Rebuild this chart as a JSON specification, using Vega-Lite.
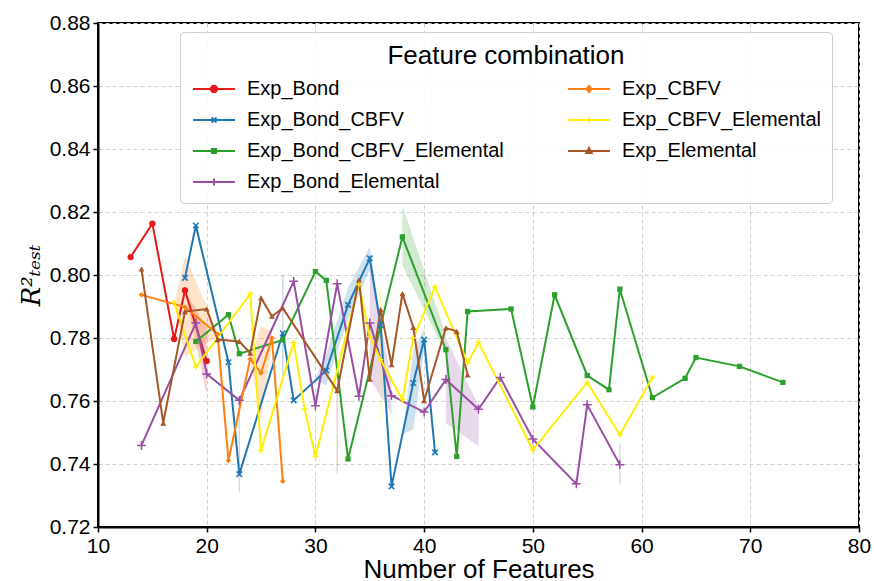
{
  "$schema": "https://vega.github.io/schema/vega-lite/v6.json",
  "width": 761,
  "height": 504,
  "autosize": {"type": "none"},
  "padding": {"left": 98, "top": 23, "right": 15, "bottom": 54},
  "background": "white",
  "config": {
    "font": "Liberation Sans",
    "view": {"stroke": "black", "strokeWidth": 2},
    "axis": {
      "labelFont": "Liberation Sans",
      "labelFontSize": 21,
      "labelColor": "black",
      "labelFlush": false,
      "tickColor": "black",
      "tickSize": 5,
      "tickWidth": 1.5,
      "domainColor": "black",
      "domainWidth": 2,
      "gridColor": "#d0d0d0",
      "gridDash": [4, 3],
      "gridWidth": 1,
      "titleFont": "Liberation Sans",
      "titleFontWeight": "normal",
      "titleColor": "black"
    }
  },
  "datasets": {
    "lines": [
      {"s": "Exp_Bond", "x": 13, "y": 0.8057},
      {"s": "Exp_Bond", "x": 15, "y": 0.8163},
      {"s": "Exp_Bond", "x": 17, "y": 0.7797},
      {"s": "Exp_Bond", "x": 18, "y": 0.7951},
      {"s": "Exp_Bond", "x": 20, "y": 0.7727},

      {"s": "Exp_Bond_CBFV", "x": 18, "y": 0.7991},
      {"s": "Exp_Bond_CBFV", "x": 19, "y": 0.8157},
      {"s": "Exp_Bond_CBFV", "x": 22, "y": 0.7723},
      {"s": "Exp_Bond_CBFV", "x": 23, "y": 0.7368},
      {"s": "Exp_Bond_CBFV", "x": 27, "y": 0.7815},
      {"s": "Exp_Bond_CBFV", "x": 28, "y": 0.7602},
      {"s": "Exp_Bond_CBFV", "x": 31, "y": 0.7697},
      {"s": "Exp_Bond_CBFV", "x": 33, "y": 0.7905},
      {"s": "Exp_Bond_CBFV", "x": 35, "y": 0.8053},
      {"s": "Exp_Bond_CBFV", "x": 36, "y": 0.784},
      {"s": "Exp_Bond_CBFV", "x": 37, "y": 0.7329},
      {"s": "Exp_Bond_CBFV", "x": 39, "y": 0.7657},
      {"s": "Exp_Bond_CBFV", "x": 40, "y": 0.7795},
      {"s": "Exp_Bond_CBFV", "x": 41, "y": 0.7437},

      {"s": "Exp_Bond_CBFV_Elemental", "x": 19, "y": 0.7789},
      {"s": "Exp_Bond_CBFV_Elemental", "x": 22, "y": 0.7874},
      {"s": "Exp_Bond_CBFV_Elemental", "x": 23, "y": 0.775},
      {"s": "Exp_Bond_CBFV_Elemental", "x": 27, "y": 0.7794},
      {"s": "Exp_Bond_CBFV_Elemental", "x": 30, "y": 0.8011},
      {"s": "Exp_Bond_CBFV_Elemental", "x": 31, "y": 0.7983},
      {"s": "Exp_Bond_CBFV_Elemental", "x": 33, "y": 0.7416},
      {"s": "Exp_Bond_CBFV_Elemental", "x": 38, "y": 0.8121},
      {"s": "Exp_Bond_CBFV_Elemental", "x": 42, "y": 0.7763},
      {"s": "Exp_Bond_CBFV_Elemental", "x": 43, "y": 0.7424},
      {"s": "Exp_Bond_CBFV_Elemental", "x": 44, "y": 0.7884},
      {"s": "Exp_Bond_CBFV_Elemental", "x": 48, "y": 0.7892},
      {"s": "Exp_Bond_CBFV_Elemental", "x": 50, "y": 0.7581},
      {"s": "Exp_Bond_CBFV_Elemental", "x": 52, "y": 0.7937},
      {"s": "Exp_Bond_CBFV_Elemental", "x": 55, "y": 0.7681},
      {"s": "Exp_Bond_CBFV_Elemental", "x": 57, "y": 0.7636},
      {"s": "Exp_Bond_CBFV_Elemental", "x": 58, "y": 0.7955},
      {"s": "Exp_Bond_CBFV_Elemental", "x": 61, "y": 0.7611},
      {"s": "Exp_Bond_CBFV_Elemental", "x": 64, "y": 0.7672},
      {"s": "Exp_Bond_CBFV_Elemental", "x": 65, "y": 0.7738},
      {"s": "Exp_Bond_CBFV_Elemental", "x": 69, "y": 0.771},
      {"s": "Exp_Bond_CBFV_Elemental", "x": 73, "y": 0.7659},

      {"s": "Exp_Bond_Elemental", "x": 14, "y": 0.7459},
      {"s": "Exp_Bond_Elemental", "x": 19, "y": 0.7848},
      {"s": "Exp_Bond_Elemental", "x": 20, "y": 0.7686},
      {"s": "Exp_Bond_Elemental", "x": 23, "y": 0.7602},
      {"s": "Exp_Bond_Elemental", "x": 28, "y": 0.798},
      {"s": "Exp_Bond_Elemental", "x": 30, "y": 0.7585},
      {"s": "Exp_Bond_Elemental", "x": 32, "y": 0.7972},
      {"s": "Exp_Bond_Elemental", "x": 34, "y": 0.7615},
      {"s": "Exp_Bond_Elemental", "x": 35, "y": 0.7848},
      {"s": "Exp_Bond_Elemental", "x": 37, "y": 0.7617},
      {"s": "Exp_Bond_Elemental", "x": 40, "y": 0.7565},
      {"s": "Exp_Bond_Elemental", "x": 42, "y": 0.7668},
      {"s": "Exp_Bond_Elemental", "x": 45, "y": 0.7574},
      {"s": "Exp_Bond_Elemental", "x": 47, "y": 0.7675},
      {"s": "Exp_Bond_Elemental", "x": 50, "y": 0.7479},
      {"s": "Exp_Bond_Elemental", "x": 54, "y": 0.7337},
      {"s": "Exp_Bond_Elemental", "x": 55, "y": 0.7588},
      {"s": "Exp_Bond_Elemental", "x": 58, "y": 0.7398},

      {"s": "Exp_CBFV", "x": 14, "y": 0.7937},
      {"s": "Exp_CBFV", "x": 18, "y": 0.7898},
      {"s": "Exp_CBFV", "x": 21, "y": 0.7813},
      {"s": "Exp_CBFV", "x": 22, "y": 0.7411},
      {"s": "Exp_CBFV", "x": 24, "y": 0.7733},
      {"s": "Exp_CBFV", "x": 25, "y": 0.7689},
      {"s": "Exp_CBFV", "x": 26, "y": 0.78},
      {"s": "Exp_CBFV", "x": 27, "y": 0.7345},

      {"s": "Exp_CBFV_Elemental", "x": 17, "y": 0.7913},
      {"s": "Exp_CBFV_Elemental", "x": 19, "y": 0.7708},
      {"s": "Exp_CBFV_Elemental", "x": 24, "y": 0.794},
      {"s": "Exp_CBFV_Elemental", "x": 25, "y": 0.7443},
      {"s": "Exp_CBFV_Elemental", "x": 28, "y": 0.7786},
      {"s": "Exp_CBFV_Elemental", "x": 29, "y": 0.7575},
      {"s": "Exp_CBFV_Elemental", "x": 30, "y": 0.7424},
      {"s": "Exp_CBFV_Elemental", "x": 34, "y": 0.797},
      {"s": "Exp_CBFV_Elemental", "x": 35, "y": 0.7805},
      {"s": "Exp_CBFV_Elemental", "x": 36, "y": 0.7731},
      {"s": "Exp_CBFV_Elemental", "x": 38, "y": 0.7604},
      {"s": "Exp_CBFV_Elemental", "x": 39, "y": 0.78},
      {"s": "Exp_CBFV_Elemental", "x": 41, "y": 0.7962},
      {"s": "Exp_CBFV_Elemental", "x": 44, "y": 0.7721},
      {"s": "Exp_CBFV_Elemental", "x": 45, "y": 0.7786},
      {"s": "Exp_CBFV_Elemental", "x": 50, "y": 0.7445},
      {"s": "Exp_CBFV_Elemental", "x": 55, "y": 0.7659},
      {"s": "Exp_CBFV_Elemental", "x": 58, "y": 0.7493},
      {"s": "Exp_CBFV_Elemental", "x": 61, "y": 0.7675},

      {"s": "Exp_Elemental", "x": 14, "y": 0.8019},
      {"s": "Exp_Elemental", "x": 16, "y": 0.753},
      {"s": "Exp_Elemental", "x": 18, "y": 0.7884},
      {"s": "Exp_Elemental", "x": 20, "y": 0.7892},
      {"s": "Exp_Elemental", "x": 21, "y": 0.7795},
      {"s": "Exp_Elemental", "x": 23, "y": 0.7789},
      {"s": "Exp_Elemental", "x": 24, "y": 0.7752},
      {"s": "Exp_Elemental", "x": 25, "y": 0.7927},
      {"s": "Exp_Elemental", "x": 26, "y": 0.7869},
      {"s": "Exp_Elemental", "x": 27, "y": 0.7895},
      {"s": "Exp_Elemental", "x": 32, "y": 0.7633},
      {"s": "Exp_Elemental", "x": 34, "y": 0.7985},
      {"s": "Exp_Elemental", "x": 35, "y": 0.7669},
      {"s": "Exp_Elemental", "x": 36, "y": 0.789},
      {"s": "Exp_Elemental", "x": 37, "y": 0.7715},
      {"s": "Exp_Elemental", "x": 38, "y": 0.7941},
      {"s": "Exp_Elemental", "x": 39, "y": 0.7834},
      {"s": "Exp_Elemental", "x": 40, "y": 0.7601},
      {"s": "Exp_Elemental", "x": 42, "y": 0.7832},
      {"s": "Exp_Elemental", "x": 43, "y": 0.7821},
      {"s": "Exp_Elemental", "x": 44, "y": 0.7683}
    ],
    "bands": [
      {"s": "Exp_Bond", "g": "r1", "x": 18, "lo": 0.795, "hi": 0.795},
      {"s": "Exp_Bond", "g": "r1", "x": 20, "lo": 0.762, "hi": 0.783},
      {"s": "Exp_CBFV", "g": "o1", "x": 17, "lo": 0.7908, "hi": 0.7908},
      {"s": "Exp_CBFV", "g": "o1", "x": 18, "lo": 0.774, "hi": 0.806},
      {"s": "Exp_CBFV", "g": "o1", "x": 21, "lo": 0.7805, "hi": 0.782},
      {"s": "Exp_CBFV", "g": "o2", "x": 24, "lo": 0.7733, "hi": 0.7733},
      {"s": "Exp_CBFV", "g": "o2", "x": 25, "lo": 0.754, "hi": 0.784},
      {"s": "Exp_CBFV", "g": "o2", "x": 26, "lo": 0.778, "hi": 0.782},
      {"s": "Exp_Bond_CBFV", "g": "b1", "x": 30, "lo": 0.7665, "hi": 0.7672},
      {"s": "Exp_Bond_CBFV", "g": "b1", "x": 31, "lo": 0.765, "hi": 0.775},
      {"s": "Exp_Bond_CBFV", "g": "b1", "x": 33, "lo": 0.786, "hi": 0.796},
      {"s": "Exp_Bond_CBFV", "g": "b1", "x": 35, "lo": 0.8015, "hi": 0.809},
      {"s": "Exp_Bond_CBFV", "g": "b1", "x": 36, "lo": 0.783, "hi": 0.785},
      {"s": "Exp_Bond_CBFV", "g": "b2", "x": 38, "lo": 0.7493, "hi": 0.7493},
      {"s": "Exp_Bond_CBFV", "g": "b2", "x": 39, "lo": 0.751, "hi": 0.776},
      {"s": "Exp_Bond_CBFV", "g": "b2", "x": 40, "lo": 0.776, "hi": 0.783},
      {"s": "Exp_Bond_CBFV_Elemental", "g": "g1", "x": 38, "lo": 0.803, "hi": 0.822},
      {"s": "Exp_Bond_CBFV_Elemental", "g": "g1", "x": 42, "lo": 0.775, "hi": 0.781},
      {"s": "Exp_Bond_Elemental", "g": "p1", "x": 35, "lo": 0.767, "hi": 0.805},
      {"s": "Exp_Bond_Elemental", "g": "p1", "x": 37, "lo": 0.756, "hi": 0.766},
      {"s": "Exp_Bond_Elemental", "g": "p2", "x": 42, "lo": 0.753, "hi": 0.78},
      {"s": "Exp_Bond_Elemental", "g": "p2", "x": 45, "lo": 0.7456, "hi": 0.7585}
    ],
    "ci": [
      {"s": "Exp_Bond_Elemental", "x": 23, "lo": 0.731, "hi": 0.76},
      {"s": "Exp_Bond_Elemental", "x": 58, "lo": 0.7334, "hi": 0.7461},
      {"s": "Exp_Elemental", "x": 32, "lo": 0.737, "hi": 0.763},
      {"s": "Exp_CBFV_Elemental", "x": 36, "lo": 0.754, "hi": 0.7965},
      {"s": "Exp_Bond_CBFV", "x": 27, "lo": 0.768, "hi": 0.8}
    ]
  },
  "encoding": {
    "x": {"field": "x", "type": "quantitative", "scale": {"domain": [10, 80], "nice": false},
          "axis": {"title": "Number of Features", "values": [10, 20, 30, 40, 50, 60, 70, 80], "titleFontSize": 26, "titleBaseline": "alphabetic", "titleY": 50, "labelPadding": 3, "grid": true}},
    "color": {
      "field": "s", "type": "nominal",
      "scale": {"domain": ["Exp_Bond", "Exp_Bond_CBFV", "Exp_Bond_CBFV_Elemental", "Exp_Bond_Elemental", "Exp_CBFV", "Exp_CBFV_Elemental", "Exp_Elemental"],
                "range": ["#e41a1c", "#1f77b4", "#2ca02c", "#984ea3", "#ff7f0e", "#ffee00", "#a65628"]},
      "legend": {
        "title": "Feature combination",
        "orient": "none",
        "legendX": 82,
        "legendY": 9,
        "direction": "vertical",
        "columns": 2,
        "columnPadding": 60,
        "rowPadding": 11,
        "titleFont": "Liberation Sans",
        "titleFontSize": 26,
        "titleFontWeight": "normal",
        "titleColor": "black",
        "titleAnchor": "middle",
        "titlePadding": 10,
        "titleLimit": 700,
        "labelFont": "Liberation Sans",
        "labelFontSize": 20,
        "labelColor": "black",
        "labelLimit": 400,
        "labelOffset": 23,
        "symbolSize": 196,
        "symbolOffset": 13,
        "symbolStrokeWidth": 2,
        "strokeColor": "#cccccc",
        "fillColor": "rgba(255,255,255,0.85)",
        "cornerRadius": 4,
        "padding": 11,
        "encode": {
          "symbols": {
            "update": {
              "shape": {"signal": "datum.value === 'Exp_Bond' ? 'M-3,0L3,0M0.45,0A0.45,0.45,0,1,1,-0.45,0A0.45,0.45,0,1,1,0.45,0Z' : datum.value === 'Exp_CBFV' ? 'M-3,0L3,0M0,-0.45L0.35,0L0,0.45L-0.35,0Z' : datum.value === 'Exp_Bond_CBFV' ? 'M-3,0L3,0M-0.35,-0.35L0.35,0.35M-0.35,0.35L0.35,-0.35' : datum.value === 'Exp_CBFV_Elemental' ? 'M-3,0L3,0M0,-0.35L0,0.35' : datum.value === 'Exp_Bond_CBFV_Elemental' ? 'M-3,0L3,0M-0.3,-0.3L0.3,-0.3L0.3,0.3L-0.3,0.3Z' : datum.value === 'Exp_Elemental' ? 'M-3,0L3,0M0,-0.45L0.4,0.3L-0.4,0.3Z' : 'M-3,0L3,0M0,-0.5L0,0.5'"},
              "fill": {"scale": "color", "field": "value"},
              "stroke": {"scale": "color", "field": "value"},
              "strokeWidth": {"value": 2},
              "size": {"value": 196},
              "opacity": {"value": 1},
              "fillOpacity": {"value": 1},
              "strokeOpacity": {"value": 1}
            }
          }
        }
      }
    }
  },
  "layer": [
    {
      "data": {"name": "bands"},
      "mark": {"type": "area", "fillOpacity": 0.22},
      "encoding": {
        "y": {"field": "lo", "type": "quantitative", "title": "R²ₜₑₛₜ",
              "scale": {"domain": [0.72, 0.88], "nice": false, "zero": false},
              "axis": {"values": [0.72, 0.74, 0.76, 0.78, 0.8, 0.82, 0.84, 0.86, 0.88], "format": ".2f", "titleFont": "DejaVu Serif", "titleFontStyle": "italic", "titleFontSize": 26, "titlePadding": 5, "labelPadding": 3, "grid": true}},
        "y2": {"field": "hi"},
        "detail": {"field": "g"}
      }
    },
    {
      "data": {"name": "ci"},
      "mark": {"type": "rule", "strokeWidth": 1.2, "opacity": 0.3},
      "encoding": {
        "y": {"field": "lo", "type": "quantitative", "title": "R²ₜₑₛₜ"},
        "y2": {"field": "hi"}
      }
    },
    {
      "data": {"name": "lines"},
      "mark": {"type": "line", "strokeWidth": 2},
      "encoding": {"y": {"field": "y", "type": "quantitative", "title": "R²ₜₑₛₜ"}}
    },
    {
      "data": {"name": "lines"},
      "transform": [{"filter": "datum.s === 'Exp_Bond'"}],
      "mark": {"type": "point", "shape": "circle", "size": 40, "filled": true, "opacity": 1},
      "encoding": {"y": {"field": "y", "type": "quantitative", "title": "R²ₜₑₛₜ"}}
    },
    {
      "data": {"name": "lines"},
      "transform": [{"filter": "datum.s === 'Exp_CBFV'"}],
      "mark": {"type": "point", "shape": "diamond", "size": 30, "filled": true, "opacity": 1},
      "encoding": {"y": {"field": "y", "type": "quantitative", "title": "R²ₜₑₛₜ"}}
    },
    {
      "data": {"name": "lines"},
      "transform": [{"filter": "datum.s === 'Exp_Bond_CBFV'"}],
      "mark": {"type": "point", "shape": "M-1,-1L1,1M-1,1L1,-1", "size": 30, "filled": false, "strokeWidth": 1.6, "opacity": 1},
      "encoding": {"y": {"field": "y", "type": "quantitative", "title": "R²ₜₑₛₜ"}}
    },
    {
      "data": {"name": "lines"},
      "transform": [{"filter": "datum.s === 'Exp_CBFV_Elemental'"}],
      "mark": {"type": "point", "shape": "M-1,0L1,0M0,-1L0,1", "size": 30, "filled": false, "strokeWidth": 1.5, "opacity": 1},
      "encoding": {"y": {"field": "y", "type": "quantitative", "title": "R²ₜₑₛₜ"}}
    },
    {
      "data": {"name": "lines"},
      "transform": [{"filter": "datum.s === 'Exp_Bond_CBFV_Elemental'"}],
      "mark": {"type": "point", "shape": "square", "size": 28, "filled": true, "opacity": 1},
      "encoding": {"y": {"field": "y", "type": "quantitative", "title": "R²ₜₑₛₜ"}}
    },
    {
      "data": {"name": "lines"},
      "transform": [{"filter": "datum.s === 'Exp_Elemental'"}],
      "mark": {"type": "point", "shape": "triangle-up", "size": 36, "filled": true, "opacity": 1},
      "encoding": {"y": {"field": "y", "type": "quantitative", "title": "R²ₜₑₛₜ"}}
    },
    {
      "data": {"name": "lines"},
      "transform": [{"filter": "datum.s === 'Exp_Bond_Elemental'"}],
      "mark": {"type": "point", "shape": "M-1,0L1,0M0,-1L0,1", "size": 80, "filled": false, "strokeWidth": 1.5, "opacity": 1},
      "encoding": {"y": {"field": "y", "type": "quantitative", "title": "R²ₜₑₛₜ"}}
    }
  ]
}
